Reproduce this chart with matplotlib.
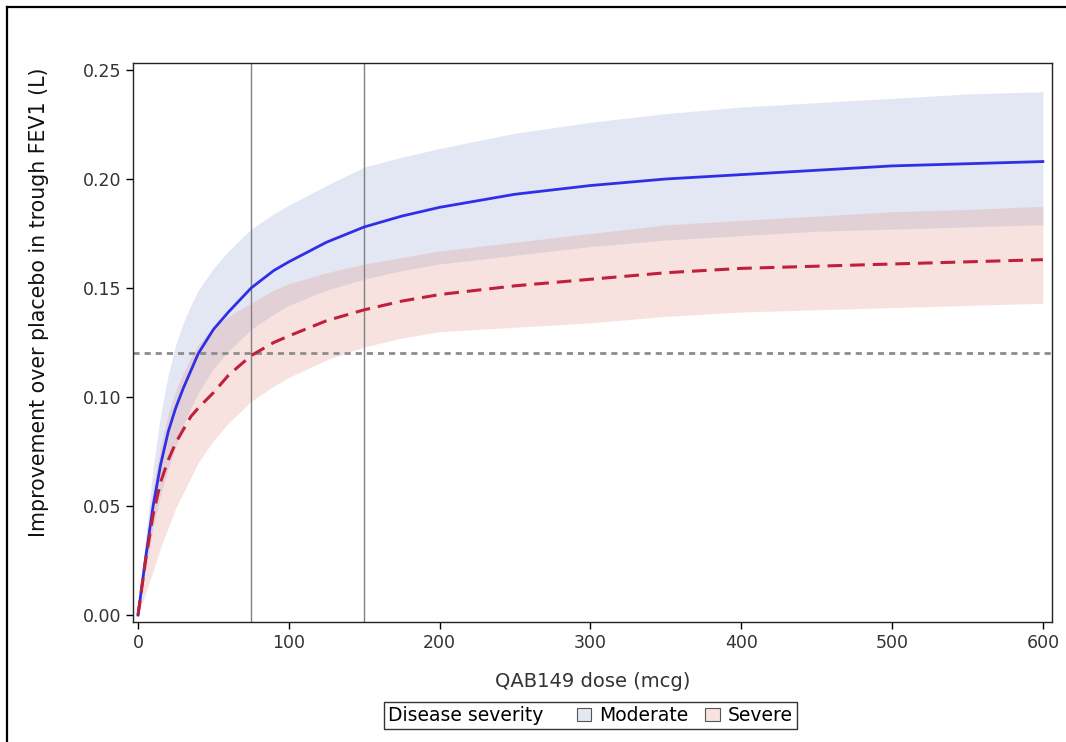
import matplotlib
matplotlib.use('Agg')
import matplotlib.pyplot as plt
from matplotlib.patches import Patch
from matplotlib.lines import Line2D
from matplotlib.offsetbox import HPacker

plt.rcParams['font.family'] = ['DejaVu Sans']

# dose grid (mcg)
dose = [0, 5, 10, 15, 20, 25, 30, 35, 40, 50, 60, 75, 90, 100, 125, 150,
        175, 200, 250, 300, 350, 400, 450, 500, 550, 600]

# Moderate: median and band
mod_mid = [0, 0.026, 0.050, 0.069, 0.084, 0.095, 0.104, 0.112, 0.120, 0.131, 0.139, 0.150, 0.158,
           0.162, 0.171, 0.178, 0.183, 0.187, 0.193, 0.197, 0.200, 0.202, 0.204, 0.206, 0.207, 0.208]
mod_hi = [0, 0.035, 0.068, 0.092, 0.110, 0.124, 0.134, 0.142, 0.149, 0.159, 0.167, 0.177, 0.184,
          0.188, 0.197, 0.2055, 0.210, 0.214, 0.221, 0.226, 0.230, 0.233, 0.235, 0.237, 0.239, 0.240]
mod_lo = [0, 0.020, 0.040, 0.055, 0.067, 0.077, 0.087, 0.095, 0.102, 0.113, 0.121, 0.131, 0.138,
          0.142, 0.149, 0.154, 0.158, 0.161, 0.165, 0.169, 0.172, 0.174, 0.176, 0.177, 0.178, 0.179]

# Severe: median and band
sev_mid = [0, 0.025, 0.046, 0.061, 0.071, 0.079, 0.085, 0.091, 0.095, 0.102, 0.110, 0.119, 0.125,
           0.128, 0.135, 0.140, 0.144, 0.147, 0.151, 0.154, 0.157, 0.159, 0.160, 0.161, 0.162, 0.163]
sev_hi = [0, 0.030, 0.058, 0.078, 0.092, 0.103, 0.111, 0.118, 0.124, 0.132, 0.137, 0.143, 0.149,
          0.152, 0.157, 0.161, 0.164, 0.167, 0.171, 0.175, 0.179, 0.181, 0.183, 0.185, 0.186, 0.1875]
sev_lo = [0, 0.010, 0.020, 0.031, 0.040, 0.049, 0.056, 0.063, 0.070, 0.080, 0.088, 0.098, 0.105,
          0.109, 0.117, 0.123, 0.127, 0.130, 0.132, 0.134, 0.137, 0.139, 0.140, 0.141, 0.142, 0.143]

target = 0.12
ref_doses = [75, 150]

fig = plt.figure(figsize=(10.66, 7.42), dpi=100)
ax = fig.add_axes([0.1248, 0.1617, 0.862, 0.7534])

ax.fill_between(dose, mod_lo, mod_hi, color='#8fa3d1', alpha=0.25, lw=0)
ax.fill_between(dose, sev_lo, sev_hi, color='#e38f87', alpha=0.25, lw=0)

for d in ref_doses:
    ax.axvline(d, color='#808080', lw=1.0)
ax.axhline(target, color='#8c8c8c', lw=2.0, linestyle=(0, (2.2, 1.8)))

ax.plot(dose, mod_mid, color='#2f2fe8', lw=2.0)
ax.plot(dose, sev_mid, color='#c0203a', lw=2.2, linestyle=(0, (4.8, 2.6)))

ax.set_xlim(-3.3, 606)
ax.set_ylim(-0.0032, 0.2532)
ax.set_xticks([0, 100, 200, 300, 400, 500, 600])
ax.set_yticks([0, 0.05, 0.10, 0.15, 0.20, 0.25])
ax.set_yticklabels(['0.00', '0.05', '0.10', '0.15', '0.20', '0.25'])
ax.tick_params(direction='out', length=5, width=1, labelsize=12.5, colors='#000000',
               labelcolor='#333333')
for s in ax.spines.values():
    s.set_linewidth(1.0)
    s.set_color('#222222')

ax.set_xlabel('QAB149 dose (mcg)', fontsize=14, color='#333333')
ax.xaxis.set_label_coords(0.5, -0.089)
ax.set_ylabel('Improvement over placebo in trough FEV1 (L)', fontsize=14.8, color='#111111')
ax.yaxis.set_label_coords(-0.091, 0.572)

handles = [Patch(facecolor='#e3e8f3', edgecolor='#555555', lw=0.8),
           Patch(facecolor='#f8e3e1', edgecolor='#555555', lw=0.8)]
labels = ['Moderate', 'Severe']
leg = fig.legend(handles, labels, loc='center', bbox_to_anchor=(0.554, 0.0357), ncol=2,
                 fontsize=13.5, frameon=True, fancybox=False, handlelength=0.75,
                 handleheight=0.75, handletextpad=0.45, columnspacing=0.9, borderpad=0.2,
                 borderaxespad=0, title='Disease severity', title_fontsize=13.5)
# put the legend title on the same row as the entries
old = leg._legend_box
row = HPacker(pad=old.pad, sep=24, align='center',
              children=[leg._legend_title_box, leg._legend_handle_box])
row.set_figure(fig)
row.axes = leg.axes
row.set_offset(leg._findoffset)
leg._legend_box = row
leg.get_frame().set_edgecolor('#000000')
leg.get_frame().set_linewidth(1.0)

# outer border (left and top)
fig.add_artist(Line2D([0.0066, 0.0066], [0, 0.9906], color='black', lw=1.6,
                      transform=fig.transFigure))
fig.add_artist(Line2D([0.0066, 1.0], [0.9906, 0.9906], color='black', lw=1.6,
                      transform=fig.transFigure))

fig.savefig('out.png', dpi=100)
